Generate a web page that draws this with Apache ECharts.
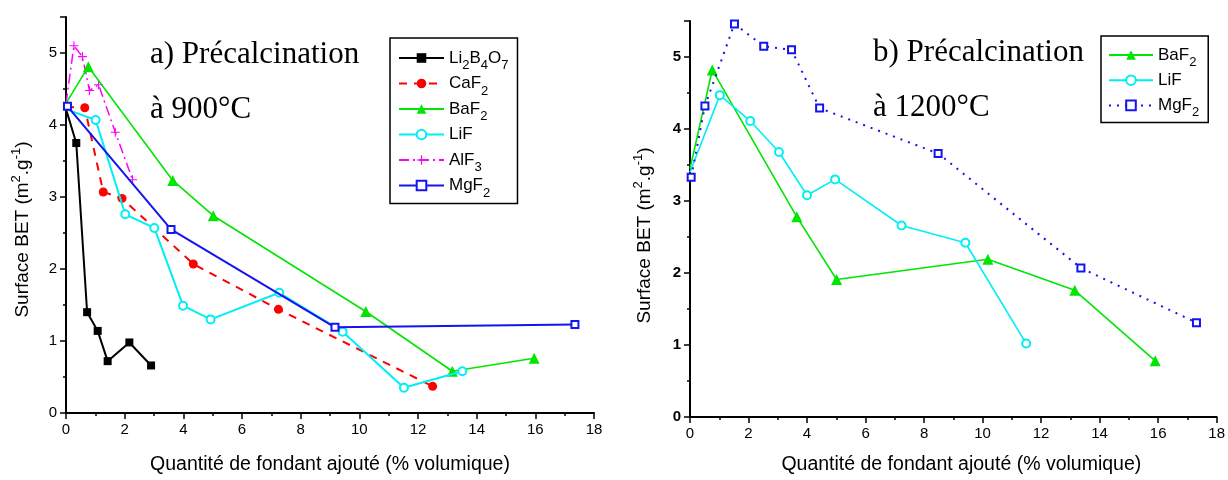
<!DOCTYPE html>
<html><head><meta charset="utf-8">
<script src="https://cdn.jsdelivr.net/npm/echarts@6/dist/echarts.min.js"></script>
<style>html,body{margin:0;padding:0;background:#fff}#c{width:1228px;height:480px}</style>
</head><body><div id="c"></div>
<script>
// ---- Data: panel a) précalcination à 900°C ----
const xLi2B4O7 = [0, 0.35, 0.72, 1.08, 1.42, 2.16, 2.9];
const yLi2B4O7 = [4.22, 3.75, 1.40, 1.14, 0.72, 0.98, 0.66];
const xCaF2 = [0, 0.64, 1.27, 1.91, 4.34, 7.24, 12.5];
const yCaF2 = [4.25, 4.24, 3.07, 2.98, 2.07, 1.44, 0.37];
const xBaF2a = [0, 0.76, 3.64, 5.02, 10.22, 13.17, 15.96];
const yBaF2a = [4.3, 4.81, 3.23, 2.74, 1.41, 0.58, 0.76];
const xLiFa = [0, 1.01, 2.02, 3.01, 3.99, 4.93, 7.27, 9.43, 11.52, 13.51];
const yLiFa = [4.22, 4.07, 2.76, 2.57, 1.49, 1.30, 1.67, 1.13, 0.35, 0.58];
const xAlF3 = [0, 0.27, 0.56, 0.80, 1.11, 1.68, 2.27];
const yAlF3 = [4.3, 5.10, 4.95, 4.48, 4.56, 3.90, 3.24];
const xMgF2a = [0.05, 3.58, 9.17, 17.35];
const yMgF2a = [4.26, 2.55, 1.19, 1.23];
// ---- Data: panel b) précalcination à 1200°C ----
const xBaF2b = [0, 0.76, 3.65, 5.01, 10.18, 13.15, 15.9];
const yBaF2b = [3.45, 4.82, 2.78, 1.91, 2.19, 1.76, 0.78];
const xLiFb = [0, 1.02, 2.06, 3.04, 4.0, 4.96, 7.23, 9.41, 11.49];
const yLiFb = [3.4, 4.47, 4.11, 3.68, 3.08, 3.30, 2.66, 2.42, 1.02];
const xMgF2b = [0.04, 0.51, 1.52, 2.52, 3.47, 4.43, 8.48, 13.36, 17.31];
const yMgF2b = [3.33, 4.32, 5.46, 5.15, 5.10, 4.29, 3.66, 2.07, 1.31];
// ---- Axis ticks / labels ----
const xMin = 0, xMax = 18, xStep = 2;
const yMin = 0, yMax = 5.5, yStep = 1;
const xTitle = 'Quantité de fondant ajouté (% volumique)';
const yTitle = 'Surface BET (m{p|2}.g{p|-1})';
const titleA = ['a) Précalcination', 'à 900°C'];
const titleB = ['b) Précalcination', 'à 1200°C'];
const legendA = {'Li2B4O7':'Li{s|2}B{s|4}O{s|7}','CaF2':'CaF{s|2}','BaF2':'BaF{s|2}','LiF':'LiF','AlF3':'AlF{s|3}','MgF2':'MgF{s|2}'};
const legendB = {'BaF2 b':'BaF{s|2}','LiF b':'LiF','MgF2 b':'MgF{s|2}'};

const SANS = 'Liberation Sans';
const GREEN = '#00e600', CYAN = '#00eef5', BLUE = '#1414f0', RED = '#ff0000', MAG = '#ff00ff';
const PLUS = 'path://M0,4.4 L10,4.4 L10,5.6 L0,5.6 Z M4.4,0 L5.6,0 L5.6,10 L4.4,10 Z';

function pts(xs, ys, hideFirst) {
  return xs.map((x, i) => (hideFirst && i === 0) ? {value: [x, ys[i]], symbol: 'none'} : [x, ys[i]]);
}
function xAxis(gi, gap, shift) {
  return {type:'value', gridIndex: gi, min: xMin, max: xMax, interval: xStep,
    name: xTitle, nameLocation:'middle', nameGap: gap,
    nameTextStyle:{fontFamily:SANS, fontSize:19.5, color:'#000', padding:[0,0,0,shift]},
    axisLine:{show:true, onZero:false, lineStyle:{color:'#000', width:2}},
    axisTick:{show:true, inside:false, length:6, lineStyle:{color:'#000', width:1.5}},
    minorTick:{show:true, splitNumber:2, length:3, lineStyle:{color:'#000', width:1.5}},
    axisLabel:{fontFamily:SANS, fontSize:15, color:'#000', margin:9},
    splitLine:{show:false}};
}
function yAxis(gi, gap, shift, bold) {
  return {type:'value', gridIndex: gi, min: yMin, max: yMax, interval: yStep,
    name: yTitle, nameLocation:'middle', nameGap: gap,
    nameTextStyle:{fontFamily:SANS, fontSize:19, color:'#000', lineHeight:26, padding:[0,shift,0,0],
      rich:{p:{fontFamily:SANS, fontSize:13, color:'#000', verticalAlign:'top'}}},
    axisLine:{show:true, onZero:false, lineStyle:{color:'#000', width:2}},
    axisTick:{show:true, inside:false, length:6, lineStyle:{color:'#000', width:1.5}},
    minorTick:{show:true, splitNumber:2, length:3, lineStyle:{color:'#000', width:1.5}},
    axisLabel:{fontFamily:SANS, fontSize:15, fontWeight: bold ? 'bold' : 'normal', color:'#000', margin:9,
      formatter: v => (v % 1 === 0 ? String(v) : '')},
    splitLine:{show:false}};
}
function line(name, gi, data, color, width, type, symbol, size, z) {
  const empty = symbol.indexOf('empty') === 0;
  return {type:'line', name, xAxisIndex: gi, yAxisIndex: gi, data, color,
    symbol, symbolSize: size, showAllSymbol: true, z: z || 2,
    lineStyle:{color, width, type},
    itemStyle:{color, borderColor: color, borderWidth: empty ? 1.2 : 0},
    emphasis:{disabled:true}, animation:false};
}
function legendStyle() {
  return {fontFamily:SANS, fontSize:17, color:'#000', lineHeight:28,
    rich:{s:{fontFamily:SANS, fontSize:13, color:'#000', verticalAlign:'bottom'}}};
}
function titleItem(text, left, top) {
  return {text, left, top, padding:0,
    textStyle:{fontFamily:'Liberation Serif', fontSize:31, fontWeight:'normal', color:'#000'}};
}

const chart = echarts.init(document.getElementById('c'), null, {renderer:'canvas'});
chart.setOption({
  backgroundColor:'#fff',
  animation:false,
  title:[titleItem(titleA[0],150,39), titleItem(titleA[1],150,94), titleItem(titleB[0],873,37), titleItem(titleB[1],873,92)],
  grid:[{left:66, width:528, top:17, bottom:64, containLabel:false},
        {left:690, width:529, top:21, bottom:60, containLabel:false}],
  xAxis:[xAxis(0, 42, 0), xAxis(1, 38, 16)],
  yAxis:[yAxis(0, 30, 29, false), yAxis(1, 32, 33, true)],
  legend:[
    {orient:'vertical', left:390, top:38, padding:[6,9,4,8], itemGap:-2.5, itemWidth:45, itemHeight:12,
     backgroundColor:'#fff', borderColor:'#000', borderWidth:1.5, selectedMode:false,
     data:['Li2B4O7','CaF2','BaF2','LiF','AlF3','MgF2'], formatter: n => legendA[n], textStyle: legendStyle()},
    {orient:'vertical', left:1101, top:36, padding:[5,9,3,7], itemGap:-2.8, itemWidth:44, itemHeight:12,
     backgroundColor:'#fff', borderColor:'#000', borderWidth:1.5, selectedMode:false,
     data:['BaF2 b','LiF b','MgF2 b'], formatter: n => legendB[n], textStyle: legendStyle()}
  ],
  series:[
    line('AlF3', 0, pts(xAlF3, yAlF3, true), MAG, 1.5, [10,4,2,4], PLUS, 9, 2),
    line('BaF2', 0, pts(xBaF2a, yBaF2a, true), GREEN, 1.6, 'solid', 'triangle', 11, 3),
    line('CaF2', 0, pts(xCaF2, yCaF2, true), RED, 2, [8,7], 'circle', 9, 3),
    line('LiF', 0, pts(xLiFa, yLiFa, true), CYAN, 2, 'solid', 'emptyCircle', 8, 4),
    line('Li2B4O7', 0, pts(xLi2B4O7, yLi2B4O7, true), '#000', 2, 'solid', 'rect', 8, 4),
    line('MgF2', 0, pts(xMgF2a, yMgF2a, false), BLUE, 2, 'solid', 'emptyRect', 7, 5),
    line('BaF2 b', 1, pts(xBaF2b, yBaF2b, true), GREEN, 1.6, 'solid', 'triangle', 11, 3),
    line('LiF b', 1, pts(xLiFb, yLiFb, true), CYAN, 1.6, 'solid', 'emptyCircle', 8, 4),
    line('MgF2 b', 1, pts(xMgF2b, yMgF2b, false), BLUE, 2, [2,6], 'emptyRect', 7, 5)
  ]
});
</script></body></html>
